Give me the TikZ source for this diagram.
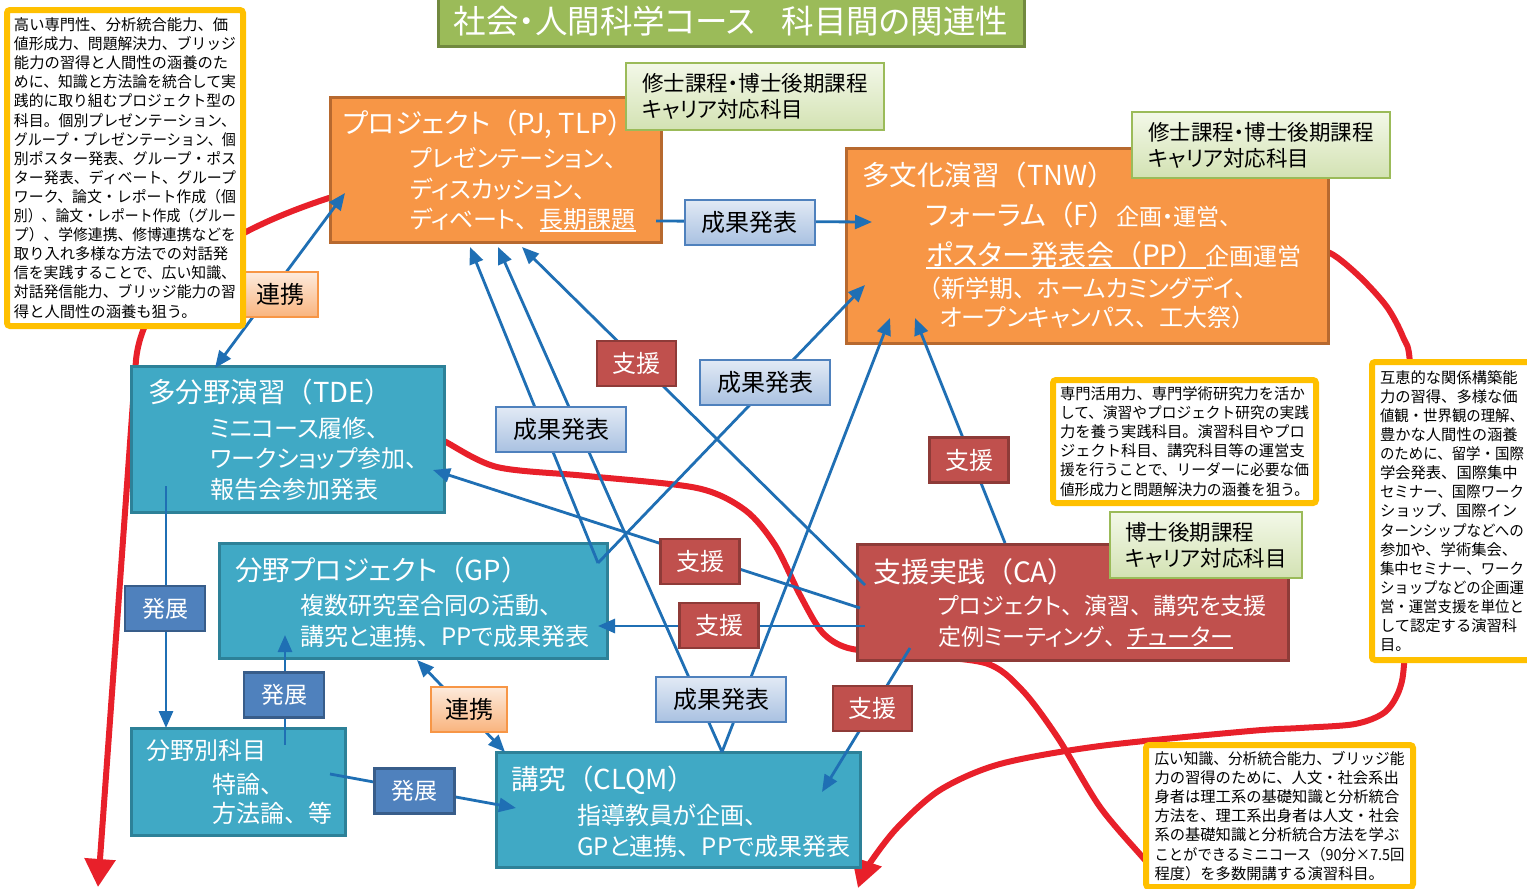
\documentclass[tikz,border=0pt]{standalone}
\usepackage{fontspec}
\usepackage{graphicx}
\setmainfont[RawFeature=+palt]{Noto Sans CJK JP}
\newfontfamily\fw{Noto Sans CJK JP}
\usetikzlibrary{arrows.meta,calc}
\definecolor{orF}{HTML}{F79646}
\definecolor{orB}{HTML}{B7692F}
\definecolor{tlF}{HTML}{40A9C5}
\definecolor{tlB}{HTML}{2D8198}
\definecolor{caF}{HTML}{C0504D}
\definecolor{caB}{HTML}{8E3B38}
\definecolor{gtF}{HTML}{9BBB59}
\definecolor{gtB}{HTML}{71893F}
\definecolor{glT}{HTML}{F3F8E8}
\definecolor{glBt}{HTML}{D3E2B3}
\definecolor{yel}{HTML}{FFC000}
\definecolor{connblue}{HTML}{1F6FB4}
\definecolor{redline}{HTML}{E8202A}
\definecolor{sbT}{HTML}{E2EAF5}
\definecolor{sbBt}{HTML}{A9C1E1}
\definecolor{sbB}{HTML}{4F81BD}
\definecolor{htF}{HTML}{4F81BD}
\definecolor{htB}{HTML}{385D8A}
\definecolor{rkT}{HTML}{FDEBDD}
\definecolor{rkB}{HTML}{F9B47E}
\newcommand\lp{{\fw （}}
\newcommand\rp{{\fw ）}}
\newcommand\tn{{\fw 、}}
\newcommand\fs[2]{\fontsize{#1}{#2}\selectfont}
\newcommand\myul[1]{\leavevmode\setbox0=\hbox{#1}\rlap{\rule[-3.5pt]{\wd0}{1.3pt}}\box0}
\newsavebox\flbox
\newcommand\fl[2]{\sbox\flbox{#2}\ifdim\wd\flbox>#1\relax\resizebox{#1}{\height}{#2}\else\usebox\flbox\fi}
\tikzset{
  box/.style={draw, line width=3pt, inner sep=0pt, outer sep=0pt, anchor=north west},
  orangebox/.style={box, fill=orF, draw=orB},
  tealbox/.style={box, fill=tlF, draw=tlB},
  redbox/.style={box, fill=caF, draw=caB},
  wt/.style={text=white, inner sep=0pt, outer sep=0pt, anchor=base west},
  ttl/.style={wt, font=\fs{27.5}{30}},
  sub/.style={wt, font=\fs{24}{28}},
  glabel/.style={draw=gtF, line width=2pt, top color=glT, bottom color=glBt, align=left, font=\fs{21.5}{26}, text=black, anchor=north west, inner sep=0pt, outer sep=0pt},
  seika/.style={draw=sbB, line width=2pt, top color=sbT, bottom color=sbBt, font=\fs{24}{24}, text=black, minimum width=130pt, minimum height=45pt, inner sep=0pt, outer sep=0pt},
  shien/.style={draw=caB, fill=caF, line width=2.5pt, text=white, font=\fs{24}{24}, minimum width=79pt, minimum height=45pt, inner sep=0pt, outer sep=0pt},
  hatten/.style={draw=htB, fill=htF, line width=2.5pt, text=white, font=\fs{23}{23}, minimum width=80pt, minimum height=45pt, inner sep=0pt, outer sep=0pt},
  renkei/.style={draw=orF, line width=2pt, top color=rkT, bottom color=rkB, text=black, font=\fs{24}{24}, minimum width=76pt, minimum height=45pt, inner sep=0pt, outer sep=0pt},
  ybox/.style={draw=yel, line width=6pt, fill=white, rounded corners=3pt, align=left, font=\fw\fs{15.3}{19.1}, text=black, anchor=north west, inner sep=0pt, outer sep=0pt},
  conn/.style={draw=connblue, line width=2.8pt, -{Triangle[length=17pt,width=14pt]}},
  conn2/.style={draw=connblue, line width=2.8pt, {Triangle[length=17pt,width=14pt]}-{Triangle[length=17pt,width=14pt]}},
  redc/.style={draw=redline, line width=6pt},
  redarrow/.style={redc, -{Triangle[length=28pt,width=30pt]}},
}
\begin{document}
\begin{tikzpicture}[x=1pt,y=-1pt]
\useasboundingbox (0,0) rectangle (1527,889);
\fill[white] (0,0) rectangle (1527,889);

% red curves (behind everything)
\draw[redarrow] (345,193) .. controls (215,232) and (143,290) .. (136,360) -- (98,887);
\draw[redc] plot[smooth] coordinates {(425,432) (444,441) (497,467) (587,476) (697,488) (745,510) (775,545) (800,595) (822,632) (848,648) (900,654) (985,663) (1022,690) (1058,738) (1100,807) (1145,860) (1170,889)};
\draw[redarrow] plot[smooth] coordinates {(1258,222) (1297,246) (1330,253) (1360,277) (1387,307) (1403,337) (1410,365) (1412,500) (1405,650) (1400,688) (1385,712) (1355,724) (1300,728) (1250,731) (1100,746) (1000,764) (940,790) (897,828) (868,866) (858,888)};

% boxes
\node[orangebox, minimum width=331pt, minimum height=145pt] (pj) at (330,97) {};
\node[orangebox, minimum width=482pt, minimum height=195pt] (tnw) at (846,148) {};
\node[tealbox, minimum width=313pt, minimum height=146pt] (tde) at (131,366) {};
\node[tealbox, minimum width=388pt, minimum height=115pt] (gp) at (219,543) {};
\node[tealbox, minimum width=214pt, minimum height=107pt] (bun) at (131,728) {};
\node[tealbox, minimum width=364pt, minimum height=115pt] (clqm) at (496,752) {};
\node[redbox, minimum width=431pt, minimum height=116pt] (ca) at (857,544) {};

% title
\node[draw=gtB, fill=gtF, line width=3pt, minimum width=586pt, minimum height=49pt, anchor=north west, text=white, font=\fs{32.5}{32.5}, inner sep=0pt, outer sep=0pt] (title) at (438,-3) {社会・人間科学コース\hspace{0.8em}科目間の関連性};

% green labels
\node[glabel, minimum width=258pt, minimum height=67pt] (g1) at (626,63) {修士課程・博士後期課程\\キャリア対応科目};
\node[glabel, minimum width=258pt, minimum height=66pt] (g2) at (1132,112) {修士課程・博士後期課程\\キャリア対応科目};
\node[glabel, minimum width=192pt, minimum height=66pt] (g3) at (1110,512) {博士後期課程\\キャリア対応科目};

% texts in boxes
\node[ttl] (pjt) at (343,133) {プロジェクト\lp PJ, TLP\rp};
\node[sub] (pjs1) at (410,167) {プレゼンテーション\tn};
\node[sub] (pjs2) at (410,198) {ディスカッション\tn};
\node[sub] (pjs3) at (410,228) {ディベート\tn\myul{長期課題}};

\node[ttl] (tnwt) at (862,185) {多文化演習\lp TNW\rp};
\node[wt] (tnws1) at (926,225) {{\fs{27.5}{30}フォーラム\lp F\rp}{\fs{23}{26}企画・運営\tn}};
\node[wt] (tnws2) at (926,265) {\myul{\fs{28}{30}ポスター発表会\lp PP\rp}{\fs{24}{26}企画運営}};
\node[wt, font=\fs{24}{28}] (tnws3) at (917,297) {\lp 新学期\tn ホームカミングデイ\tn};
\node[wt, font=\fs{24}{28}] (tnws4) at (940,326) {オープンキャンパス\tn 工大祭\rp};

\node[ttl] (tdet) at (148,402) {多分野演習\lp TDE\rp};
\node[sub] (tdes1) at (210,437) {ミニコース履修\tn};
\node[sub] (tdes2) at (210,467) {ワークショップ参加\tn};
\node[sub] (tdes3) at (210,498) {報告会参加発表};

\node[ttl] (gpt) at (235,580) {分野プロジェクト\lp GP\rp};
\node[sub] (gps1) at (300,614) {複数研究室合同の活動\tn};
\node[sub] (gps2) at (300,645) {講究と連携\tn PPで成果発表};

\node[sub] (bunt) at (146,759) {分野別科目};
\node[sub] (buns1) at (212,793) {特論\tn};
\node[sub] (buns2) at (212,822) {方法論\tn 等};

\node[ttl] (clqmt) at (511,789) {講究\lp CLQM\rp};
\node[sub] (clqms1) at (577,824) {指導教員が企画\tn};
\node[sub] (clqms2) at (577,855) {GPと連携\tn PPで成果発表};

\node[ttl, font=\fs{28}{30}] (cat) at (873,582) {支援実践\lp CA\rp};
\node[sub, font=\fs{23}{28}] (cas1) at (938,614) {プロジェクト\tn 演習\tn 講究を支援};
\node[sub, font=\fs{23}{28}] (cas2) at (938,645) {定例ミーティング\tn\myul{チューター}};

% blue connectors
\draw[conn2] ($(tde.north west)+(84,2)$) -- ($(pj.north west)+(15,96)$);
\draw[conn] ($(pj.north west)+(326,124)$) -- ($(tnw.north west)+(26,74)$);
\draw[conn] ($(gp.north west)+(379,20)$) -- ($(pj.north west)+(140,150)$);
\draw[conn] ($(gp.north west)+(379,20)$) -- ($(tnw.north west)+(19,137)$);
\draw[conn] ($(clqm.north west)+(226,0)$) -- ($(pj.north west)+(168,150)$);
\draw[conn] ($(clqm.north west)+(226,0)$) -- ($(tnw.north west)+(44,170)$);
\draw[conn] ($(ca.north west)+(8,41)$) -- ($(pj.north west)+(192,150)$);
\draw[conn] ($(ca.north west)+(148,-1)$) -- ($(tnw.north west)+(69,170)$);
\draw[conn] ($(ca.north west)+(3,64)$) -- ($(tde.north west)+(302,104)$);
\draw[conn] ($(ca.north west)+(8,82)$) -- ($(gp.north west)+(379,83)$);
\draw[conn] ($(ca.north west)+(53,104)$) -- ($(clqm.north west)+(326,40)$);
\draw[conn] ($(tde.north west)+(35,120)$) -- ($(bun.north west)+(35,0)$);
\draw[conn] ($(bun.north west)+(154,17)$) -- ($(gp.north west)+(66,92)$);
\draw[conn] ($(bun.north west)+(199,46)$) -- ($(clqm.north west)+(20,56)$);
\draw[conn2] ($(gp.north west)+(198,117)$) -- ($(clqm.north west)+(9,0)$);

% labels
\node[renkei] (rk1) at (280,294.5) {連携};
\node[seika] (sk1) at (749.5,222) {成果発表};
\node[shien] (sh1) at (636.5,363.5) {支援};
\node[seika] (sk2) at (765,382.5) {成果発表};
\node[seika] (sk3) at (561,429.5) {成果発表};
\node[shien] (sh2) at (969,460) {支援};
\node[shien] (sh3) at (700,561.5) {支援};
\node[shien] (sh4) at (719,625.5) {支援};
\node[hatten] (ht1) at (165,608.5) {発展};
\node[hatten] (ht2) at (284,695) {発展};
\node[renkei] (rk2) at (469,709) {連携};
\node[seika] (sk4) at (721,699.5) {成果発表};
\node[shien] (sh5) at (872.5,708.5) {支援};
\node[hatten] (ht3) at (414.5,791) {発展};

% yellow boxes
\node[ybox, minimum width=236pt, minimum height=316pt] (yl) at (7,10) {%
\fl{222pt}{高い専門性、分析統合能力、価}\\
\fl{222pt}{値形成力、問題解決力、ブリッジ}\\
\fl{222pt}{能力の習得と人間性の涵養のた}\\
\fl{222pt}{めに、知識と方法論を統合して実}\\
\fl{222pt}{践的に取り組むプロジェクト型の}\\
\fl{222pt}{科目。個別プレゼンテーション、}\\
\fl{222pt}{グループ・プレゼンテーション、個}\\
\fl{222pt}{別ポスター発表、グループ・ポス}\\
\fl{222pt}{ター発表、ディベート、グループ}\\
\fl{222pt}{ワーク、論文・レポート作成（個}\\
\fl{222pt}{別）、論文・レポート作成（グルー}\\
\fl{222pt}{プ）、学修連携、修博連携などを}\\
\fl{222pt}{取り入れ多様な方法での対話発}\\
\fl{222pt}{信を実践することで、広い知識、}\\
\fl{222pt}{対話発信能力、ブリッジ能力の習}\\
\fl{222pt}{得と人間性の涵養も狙う。}};

\node[ybox, minimum width=263pt, minimum height=123pt] (ym) at (1053,380) {%
\fl{249pt}{専門活用力、専門学術研究力を活か}\\
\fl{249pt}{して、演習やプロジェクト研究の実践}\\
\fl{249pt}{力を養う実践科目。演習科目やプロ}\\
\fl{249pt}{ジェクト科目、講究科目等の運営支}\\
\fl{249pt}{援を行うことで、リーダーに必要な価}\\
\fl{249pt}{値形成力と問題解決力の涵養を狙う。}};

\node[ybox, minimum width=160pt, minimum height=298pt] (yr) at (1372,362) {%
\fl{144pt}{互恵的な関係構築能}\\
\fl{144pt}{力の習得、多様な価}\\
\fl{144pt}{値観・世界観の理解、}\\
\fl{144pt}{豊かな人間性の涵養}\\
\fl{144pt}{のために、留学・国際}\\
\fl{144pt}{学会発表、国際集中}\\
\fl{144pt}{セミナー、国際ワーク}\\
\fl{144pt}{ショップ、国際イン}\\
\fl{144pt}{ターンシップなどへの}\\
\fl{144pt}{参加や、学術集会、}\\
\fl{144pt}{集中セミナー、ワーク}\\
\fl{144pt}{ショップなどの企画運}\\
\fl{144pt}{営・運営支援を単位と}\\
\fl{144pt}{して認定する演習科}\\
\fl{144pt}{目。}};

\node[ybox, minimum width=267pt, minimum height=142pt] (yb) at (1146,745) {%
\fl{250pt}{広い知識、分析統合能力、ブリッジ能}\\
\fl{250pt}{力の習得のために、人文・社会系出}\\
\fl{250pt}{身者は理工系の基礎知識と分析統合}\\
\fl{250pt}{方法を、理工系出身者は人文・社会}\\
\fl{250pt}{系の基礎知識と分析統合方法を学ぶ}\\
\fl{250pt}{ことができるミニコース（90分×7.5回}\\
\fl{250pt}{程度）を多数開講する演習科目。}};
\end{tikzpicture}
\end{document}
